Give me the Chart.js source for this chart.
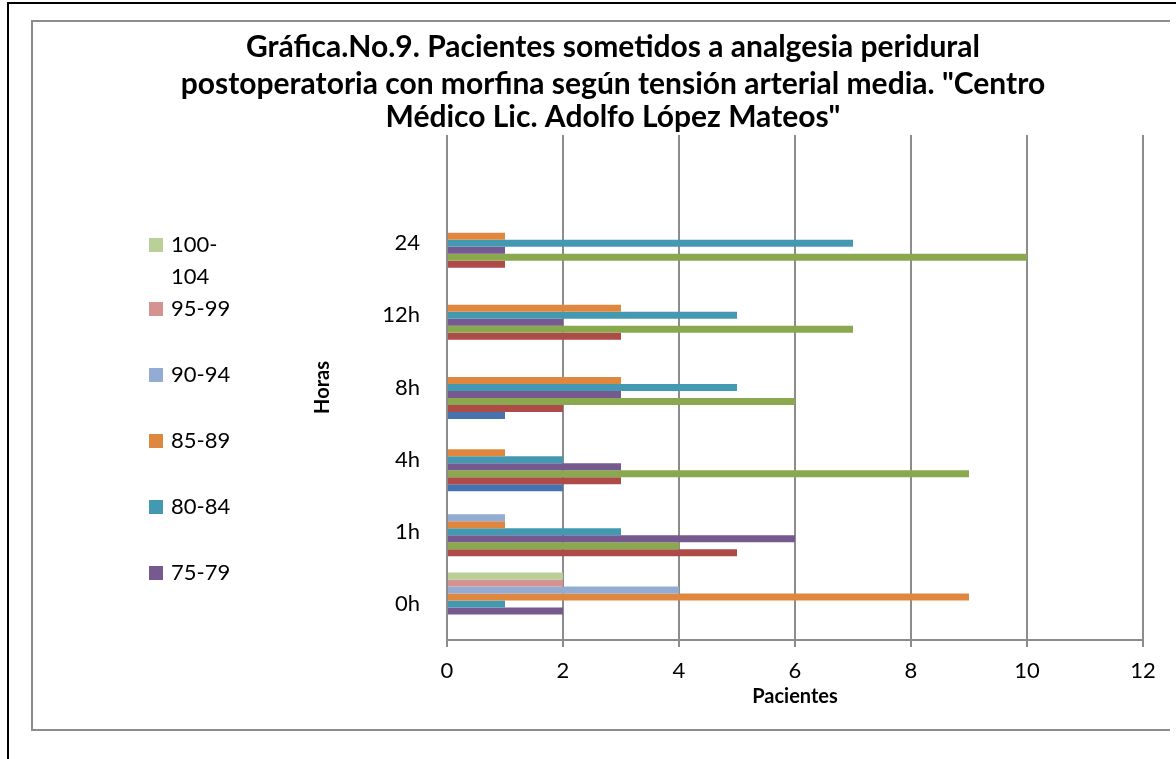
<!DOCTYPE html>
<html>
<head>
<meta charset="utf-8">
<script src="https://cdn.jsdelivr.net/npm/chart.js@4/dist/chart.umd.min.js"></script>
<style>
  html, body { margin: 0; padding: 0; background: #ffffff; }
  #wrap { width: 1176px; height: 759px; position: relative; }
</style>
</head>
<body>
<div id="wrap"><canvas id="grafica" width="1176" height="759"></canvas></div>
<script>
// Categorías (horas postoperatorias) y rangos de tensión arterial media
const horas = ['0h', '1h', '4h', '8h', '12h', '24', ''];
const rangos = ['60-64', '65-69', '70-74', '75-79', '80-84', '85-89', '90-94', '95-99', '100-104'];

// Número de pacientes por rango, en el orden de "horas"
const tam60_64   = [0, 0, 2, 1, 0, 0, 0];
const tam65_69   = [0, 5, 3, 2, 3, 1, 0];
const tam70_74   = [0, 4, 9, 6, 7, 10, 0];
const tam75_79   = [2, 6, 3, 3, 2, 1, 0];
const tam80_84   = [1, 3, 2, 5, 5, 7, 0];
const tam85_89   = [9, 1, 1, 3, 3, 1, 0];
const tam90_94   = [4, 1, 0, 0, 0, 0, 0];
const tam95_99   = [2, 0, 0, 0, 0, 0, 0];
const tam100_104 = [2, 0, 0, 0, 0, 0, 0];

const colores = ['#4673ad', '#ae4a47', '#8aa84e', '#75598f', '#4399b1', '#e0873f', '#93acd3', '#d49391', '#b9d198'];

// Entradas visibles de la leyenda (de arriba hacia abajo)
const leyendaTextos = [['100-', '104'], ['95-99'], ['90-94'], ['85-89'], ['80-84'], ['75-79']];
const leyendaColores = ['#b9d198', '#d49391', '#93acd3', '#e0873f', '#4399b1', '#75598f'];

const tituloLineas = [
  'Gráfica.No.9. Pacientes sometidos a analgesia peridural',
  'postoperatoria con morfina según tensión arterial media. "Centro',
  'Médico Lic. Adolfo López Mateos"'
];

const series = [tam60_64, tam65_69, tam70_74, tam75_79, tam80_84, tam85_89, tam90_94, tam95_99, tam100_104];

const FUENTE = "Lato, 'Open Sans', sans-serif";

// El primer rango queda abajo dentro de cada grupo: se agregan en orden inverso
const datasets = series.map((valores, i) => ({
  label: rangos[i],
  data: valores,
  backgroundColor: colores[i],
  borderWidth: 0,
  categoryPercentage: 0.873,
  barPercentage: 1.0
})).reverse();

// Marco, título y leyenda dibujados sobre el lienzo
const decoracion = {
  id: 'decoracion',
  beforeDraw(chart) {
    const ctx = chart.ctx;
    ctx.save();
    ctx.fillStyle = '#ffffff';
    ctx.fillRect(0, 0, chart.width, chart.height);
    // marco exterior
    ctx.strokeStyle = '#000000';
    ctx.lineWidth = 2;
    ctx.beginPath();
    ctx.moveTo(8, 759);
    ctx.lineTo(8, 3);
    ctx.lineTo(1176, 3);
    ctx.stroke();
    // marco del área del gráfico
    ctx.strokeStyle = '#8c8c8c';
    ctx.lineWidth = 2;
    ctx.beginPath();
    ctx.moveTo(1170, 21);
    ctx.lineTo(32, 21);
    ctx.lineTo(32, 730);
    ctx.lineTo(1170, 730);
    ctx.stroke();
    ctx.restore();
  },
  afterDraw(chart) {
    const ctx = chart.ctx;
    ctx.save();
    ctx.fillStyle = '#000000';
    ctx.textAlign = 'center';
    ctx.textBaseline = 'middle';
    ctx.font = 'bold 30px ' + FUENTE;
    const ys = [47, 84, 117];
    tituloLineas.forEach((t, i) => ctx.fillText(t, 613, ys[i]));

    ctx.font = '22px ' + FUENTE;
    ctx.textAlign = 'left';
    const posY = [245, 309, 375, 441, 507, 573];
    leyendaTextos.forEach((lineas, i) => {
      const y = posY[i];
      ctx.fillStyle = leyendaColores[i];
      ctx.fillRect(149, y - 7, 14, 14);
      ctx.fillStyle = '#000000';
      lineas.forEach((l, k) => ctx.fillText(l, 171, y + k * 32));
    });
    ctx.restore();
  }
};

new Chart(document.getElementById('grafica'), {
  type: 'bar',
  data: { labels: horas, datasets },
  plugins: [decoracion],
  options: {
    indexAxis: 'y',
    responsive: false,
    animation: false,
    layout: { padding: { left: 311, top: 135, right: 33, bottom: 50 } },
    plugins: {
      legend: { display: false },
      tooltip: { enabled: false }
    },
    scales: {
      x: {
        min: 0,
        max: 12,
        ticks: { stepSize: 2, color: '#000000', padding: 11, font: { family: FUENTE, size: 22 } },
        grid: { color: '#8c8c8c', lineWidth: 2, drawTicks: true, tickLength: 7 },
        border: { display: true, color: '#8c8c8c', width: 2 },
        title: { display: true, text: 'Pacientes', color: '#000000', padding: 0,
                 font: { family: FUENTE, size: 20, weight: 'bold' } },
        afterFit(scale) { scale.height = 69; }
      },
      y: {
        reverse: true,
        grid: { display: false, drawTicks: false },
        border: { display: false },
        ticks: { color: '#000000', padding: 27, font: { family: FUENTE, size: 22 } },
        title: { display: true, text: 'Horas', color: '#000000', padding: 0,
                 font: { family: FUENTE, size: 20, weight: 'bold' } },
        afterFit(scale) { scale.width = 136; }
      }
    }
  }
});
</script>
</body>
</html>
